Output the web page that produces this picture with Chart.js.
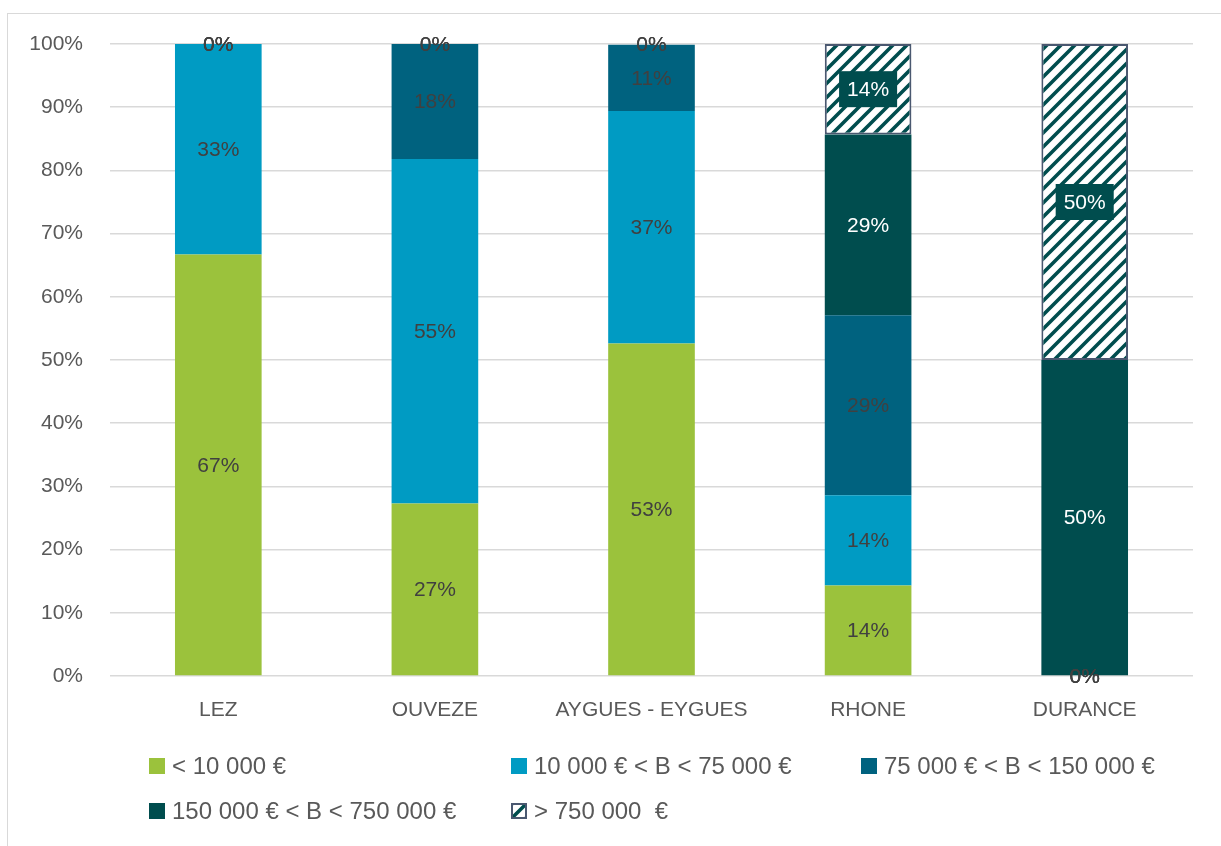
<!DOCTYPE html>
<html>
<head>
<meta charset="utf-8">
<script src="https://cdn.jsdelivr.net/npm/chart.js@4.4.1/dist/chart.umd.min.js"></script>
<style>
  html, body { margin: 0; padding: 0; background: #ffffff; overflow: hidden; }
  #frame { position: absolute; left: 7px; top: 13px; width: 1240px; height: 860px; border: 1px solid #d9d9d9; box-sizing: border-box; }
  #wrap { position: absolute; left: 0; top: 0; width: 1221px; height: 846px; }
</style>
</head>
<body>
<div id="frame"></div>
<div id="wrap"><canvas id="c" width="1221" height="846"></canvas></div>
<script>
// ---- Data (percent of total per category) ----
const categories = ['LEZ', 'OUVEZE', 'AYGUES - EYGUES', 'RHONE', 'DURANCE'];
const seriesNames = ['< 10 000 €', '10 000 € < B < 75 000 €', '75 000 € < B < 150 000 €', '150 000 € < B < 750 000 €', '> 750 000  €'];
const lessThan10k   = [66.7, 27.3, 52.6, 14.3, 0];
const from10kTo75k  = [33.3, 54.5, 36.8, 14.3, 0];
const from75kTo150k = [0, 18.2, 10.5, 28.5, 0];
const from150kTo750k = [0, 0, 0, 28.6, 50];
const moreThan750k  = [0, 0, 0, 14.3, 50];
const yTicks = [0, 10, 20, 30, 40, 50, 60, 70, 80, 90, 100];

// ---- Styles ----
const FONT = '"Liberation Sans", Arial, sans-serif';
const C_GREEN = '#9bc23c';
const C_LBLUE = '#009bc3';
const C_BLUE  = '#00627f';
const C_TEAL  = '#004d4e';
const C_HATCH_BORDER = '#4a5870';
const TEXT = '#595959';
const LABEL_DARK = '#404040';

function makeHatch() {
  const p = 14;
  const t = document.createElement('canvas');
  t.width = p; t.height = p;
  const g = t.getContext('2d');
  g.fillStyle = '#ffffff';
  g.fillRect(0, 0, p, p);
  g.strokeStyle = C_TEAL;
  g.lineWidth = 3.6;
  g.lineCap = 'square';
  g.beginPath();
  g.moveTo(-p, p); g.lineTo(p, -p);
  g.moveTo(0, p); g.lineTo(p, 0);
  g.moveTo(0, 2 * p); g.lineTo(2 * p, 0);
  g.stroke();
  const ctx = document.getElementById('c').getContext('2d');
  return ctx.createPattern(t, 'repeat');
}
const hatch = makeHatch();

const labelColors = [LABEL_DARK, LABEL_DARK, LABEL_DARK, '#ffffff', '#ffffff'];
const labelBoxed  = [false, false, false, false, true];

const dataLabelPlugin = {
  id: 'dataLabels',
  afterDatasetsDraw(chart) {
    const ctx = chart.ctx;
    ctx.save();
    ctx.font = '21px ' + FONT;
    ctx.textAlign = 'center';
    ctx.textBaseline = 'middle';
    chart.data.datasets.forEach((ds, i) => {
      const meta = chart.getDatasetMeta(i);
      meta.data.forEach((el, j) => {
        const v = ds.data[j];
        const txt = Math.round(v) + '%';
        const x = el.x;
        const y = (el.y + el.base) / 2;
        if (v === 0) {
          ctx.fillStyle = LABEL_DARK;
          ctx.fillText(txt, x, y + 1);
          return;
        }
        if (labelBoxed[i]) {
          const w = ctx.measureText(txt).width + 16;
          const h = 36;
          ctx.fillStyle = C_TEAL;
          ctx.fillRect(x - w / 2, y - h / 2, w, h);
        }
        ctx.fillStyle = labelColors[i];
        ctx.fillText(txt, x, y + 1);
      });
    });
    ctx.restore();
  }
};

const legendPlugin = {
  id: 'customLegend',
  afterDraw(chart) {
    const ctx = chart.ctx;
    const pos = [[149, 766], [511, 766], [861, 766], [149, 811], [511, 811]];
    ctx.save();
    ctx.font = '24px ' + FONT;
    ctx.textAlign = 'left';
    ctx.textBaseline = 'middle';
    chart.data.datasets.forEach((ds, i) => {
      const [x, y] = pos[i];
      const s = 16;
      ctx.fillStyle = ds.backgroundColor;
      ctx.fillRect(x, y - s / 2, s, s);
      if (i === 4) {
        ctx.strokeStyle = C_HATCH_BORDER;
        ctx.lineWidth = 2;
        ctx.strokeRect(x + 1, y - s / 2 + 1, s - 2, s - 2);
      }
      ctx.fillStyle = TEXT;
      ctx.fillText(ds.label, x + 23, y + 1);
    });
    ctx.restore();
  }
};

const seriesValues = [lessThan10k, from10kTo75k, from75kTo150k, from150kTo750k, moreThan750k];
const seriesColors = [C_GREEN, C_LBLUE, C_BLUE, C_TEAL, hatch];

const datasets = seriesValues.map((vals, i) => ({
  label: seriesNames[i],
  data: vals,
  backgroundColor: seriesColors[i],
  borderColor: i === 4 ? C_HATCH_BORDER : 'rgba(0,0,0,0)',
  borderWidth: i === 4 ? (c => (c.raw > 0 ? 2 : 0)) : 0,
  borderSkipped: false,
  barPercentage: 0.4,
  categoryPercentage: 1.0
}));

new Chart(document.getElementById('c'), {
  type: 'bar',
  data: { labels: categories, datasets: datasets },
  options: {
    responsive: false,
    animation: false,
    events: [],
    layout: { padding: { top: 44, right: 28, left: 0, bottom: 0 } },
    plugins: { legend: { display: false }, tooltip: { enabled: false } },
    scales: {
      x: {
        stacked: true,
        grid: { display: false, drawTicks: false },
        border: { display: false },
        ticks: { color: TEXT, font: { family: FONT, size: 21 }, padding: 22, maxRotation: 0, autoSkip: false },
        afterFit: a => { a.height = 170; }
      },
      y: {
        stacked: true,
        min: 0,
        max: 100,
        afterBuildTicks: a => { a.ticks = yTicks.map(v => ({ value: v })); },
        grid: { color: '#d9d9d9', lineWidth: 1.5, drawTicks: false },
        border: { display: false },
        ticks: { color: TEXT, font: { family: FONT, size: 21 }, padding: 27, callback: v => v + '%' },
        afterFit: a => { a.width = 110; }
      }
    }
  },
  plugins: [dataLabelPlugin, legendPlugin]
});
</script>
</body>
</html>
